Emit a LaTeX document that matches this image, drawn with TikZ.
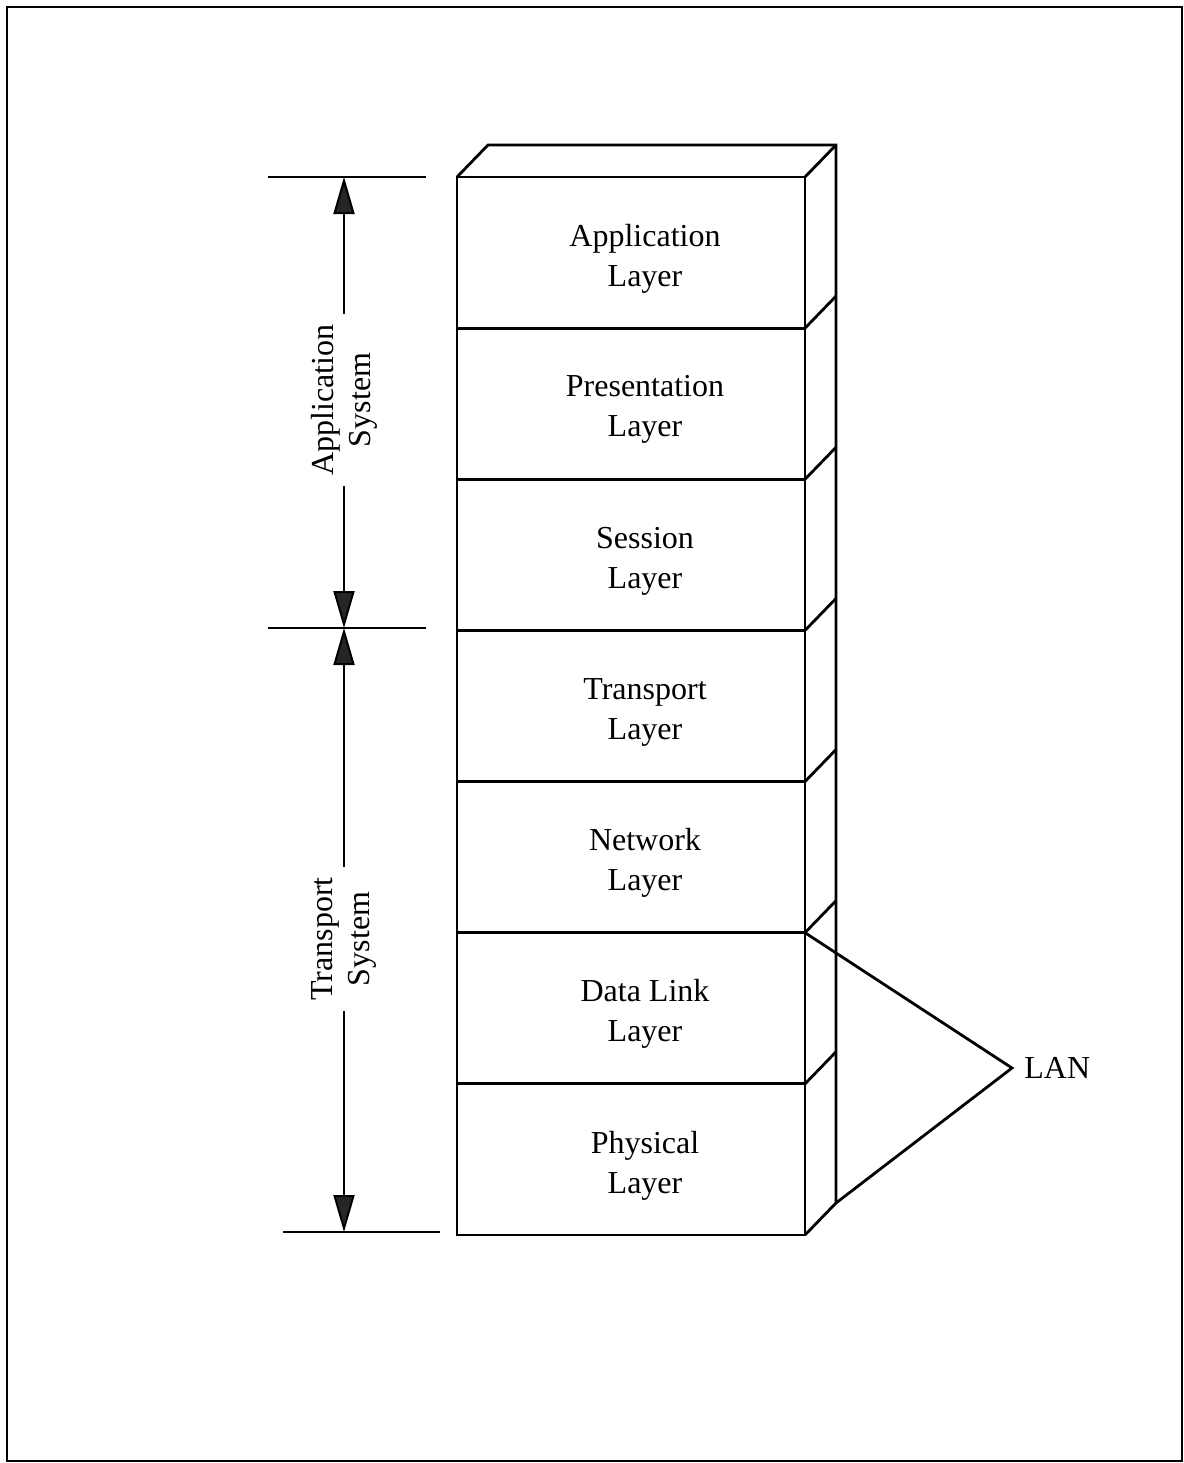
\documentclass[tikz,border=0pt]{standalone}
\usepackage{fontspec}
\setmainfont{Liberation Serif}
\usetikzlibrary{arrows.meta,calc}

\tikzset{
  layer/.style={draw, line width=1.4pt, minimum width=174pt, minimum height=75.57pt,
    outer sep=0pt, inner sep=0pt},
  layertext/.style={align=center, font=\fontsize{16}{20}\selectfont},
  dim/.style={line width=1pt},
  tip/.style={-{Triangle[width=10.5pt,length=18.5pt,fill=black!85]}},
  sys/.style={rotate=90, align=center, inner sep=5pt, font=\fontsize{16}{18.5}\selectfont},
}

\begin{document}
\begin{tikzpicture}[x=0.5pt,y=-0.5pt]
  \useasboundingbox (0,0) rectangle (1184,1463);
  \draw[line width=1pt] (7,7) rectangle (1182,1461);

  % Layers
  \foreach \name/\txt [count=\i] in {app/Application, pre/Presentation, ses/Session,
      tra/Transport, net/Network, dat/Data Link, phy/Physical}
  {
    \node[layer] (\name) at (631, 177+151.14*\i-75.57) {};
    \node[layertext] (\name-txt) at ([shift={(14,6)}]\name.center) {\txt\\Layer};
  }

  % Depth of the stack
  \coordinate (backtl) at ($(app.north west)+(31,-32)$);
  \coordinate (backbr) at ($(phy.south east)+(31,-32)$);
  \draw[line width=1.4pt] (app.north west) -- (backtl) -| (backbr) -- (phy.south east);
  \foreach \name in {app,pre,ses,tra,net,dat,phy}
    \draw[line width=1.4pt] (\name.north east) -- ++(31,-32);

  % Coordinates
  \coordinate (A) at (268,177);
  \coordinate (B) at (426,177);
  \coordinate (C) at (268,628);
  \coordinate (D) at (426,628);
  \coordinate (E) at (283,1232);
  \coordinate (F) at (440,1232);
  \coordinate (A_1) at (344,177);
  \coordinate (C_1) at (344,628);
  \coordinate (E_1) at (344,1232);

  % Drawing
  \draw[dim] (A) -- (B);
  \draw[dim] (C) -- (D);
  \draw[dim] (E) -- (F);
  \node[sys] (apsys) at (344,400) {Application\\System};
  \node[sys] (trsys) at (344,939) {Transport\\System};
  \draw[dim,tip] (apsys.east) -- (A_1);
  \draw[dim,tip] (apsys.west) -- (C_1);
  \draw[dim,tip] (trsys.east) -- (C_1);
  \draw[dim,tip] (trsys.west) -- (E_1);

  % LAN
  \node[anchor=west, inner sep=6pt, font=\fontsize{16}{20}\selectfont] (lan) at (1012,1068) {LAN};
  \draw[line width=1.4pt] (dat.north east) -- (lan.west) -- (backbr);
\end{tikzpicture}
\end{document}
